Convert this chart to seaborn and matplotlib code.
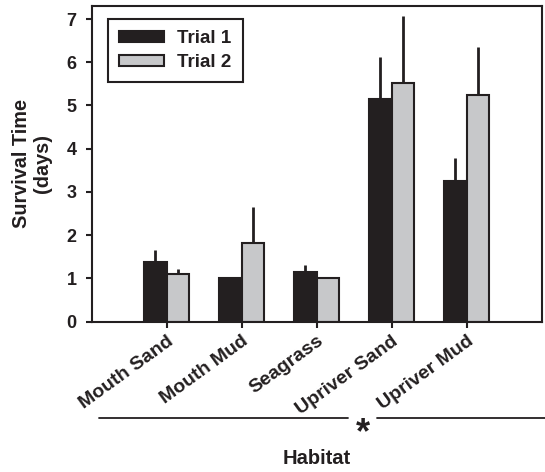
import numpy as np
import pandas as pd
import matplotlib
matplotlib.use("Agg")
import matplotlib.pyplot as plt
from matplotlib.lines import Line2D
from matplotlib.patches import Patch
import seaborn as sns

# values
habitats = ["Mouth Sand", "Mouth Mud", "Seagrass", "Upriver Sand", "Upriver Mud"]
trial1 = [1.37, 1.0, 1.15, 5.14, 3.26]
trial2 = [1.09, 1.82, 1.0, 5.51, 5.25]
err1 = [0.29, 0.0, 0.16, 0.98, 0.53]
err2 = [0.13, 0.84, 0.0, 1.56, 1.11]
trials = ["Trial 1", "Trial 2"]
colors = ["#231f20", "#c7c8ca"]
ink = "#231f20"

df = pd.DataFrame({
    "Habitat": habitats * 2,
    "Survival": trial1 + trial2,
    "Trial": [trials[0]] * 5 + [trials[1]] * 5,
})

sns.set_style("ticks")
plt.rcParams["font.family"] = ["Liberation Sans", "DejaVu Sans"]
plt.rcParams["font.weight"] = "bold"

W, H = 545, 472
fig = plt.figure(figsize=(W / 100, H / 100), dpi=100)
# axes box measured in pixels: left 91.7, right 541.7, top 5.7, bottom 321.5
ax = fig.add_axes([91.7 / W, 1 - 321.5 / H, 450 / W, 315.8 / H])

sns.barplot(data=df, x="Habitat", y="Survival", hue="Trial", order=habitats,
            hue_order=trials, palette=colors, width=0.6, gap=0,
            edgecolor=ink, linewidth=1.5, errorbar=None, ax=ax,
            saturation=1, legend=False)

# upward-only error lines, no caps
for cont, errs in zip(ax.containers, [err1, err2]):
    for bar, e in zip(cont, errs):
        if e <= 0:
            continue
        xc = bar.get_x() + bar.get_width() / 2
        ax.errorbar(xc, bar.get_height(), yerr=[[0], [e]], fmt="none",
                    ecolor=ink, elinewidth=2, capsize=0, zorder=1)

ax.set_xlim(-1, 5)
ax.set_ylim(0, 7.31)
ax.set_yticks(range(8))
ax.tick_params(axis="both", direction="out", length=4, width=1.5, colors=ink)
ax.tick_params(axis="y", labelsize=13, pad=7)
ax.tick_params(axis="x", labelsize=14, pad=4)
plt.setp(ax.get_xticklabels(), rotation=36, ha="right", rotation_mode="anchor",
         fontweight="bold")
plt.setp(ax.get_yticklabels(), fontweight="bold")
for s in ax.spines.values():
    s.set_linewidth(1.5)
    s.set_color(ink)

ax.set_xlabel("")
ax.set_ylabel("")
fig.text(32 / W, 1 - 163 / H, "Survival Time\n(days)", fontsize=14.3,
         fontweight="bold", color=ink, rotation=90, ha="center", va="center",
         linespacing=1.15, multialignment="center")

handles = [Patch(facecolor=c, edgecolor=ink, linewidth=1.5) for c in colors]
leg = ax.legend(handles, trials, loc="upper left", bbox_to_anchor=(0.0356, 0.958),
                fontsize=13.5, frameon=True, fancybox=False, handlelength=2.4,
                handleheight=0.53, borderpad=0.6, labelspacing=0.35,
                handletextpad=0.7, borderaxespad=0)
leg.get_frame().set_edgecolor(ink)
leg.get_frame().set_linewidth(1.5)
leg.get_frame().set_alpha(1)
for t in leg.get_texts():
    t.set_color(ink)
    t.set_fontweight("bold")

# significance line with asterisk under the labels
y_line = 1 - 418 / H
fig.add_artist(Line2D([99 / W, 348 / W], [y_line, y_line], color=ink, lw=1.3))
fig.add_artist(Line2D([377 / W, 1.0], [y_line, y_line], color=ink, lw=1.3))
fig.text(363 / W, 1 - 443 / H, "*", fontsize=26, fontweight="bold",
         ha="center", va="baseline", color=ink)
fig.text(316.7 / W, 1 - 459 / H, "Habitat", fontsize=14.5, fontweight="bold",
         ha="center", va="center", color=ink)

fig.savefig("out.png", dpi=100)
